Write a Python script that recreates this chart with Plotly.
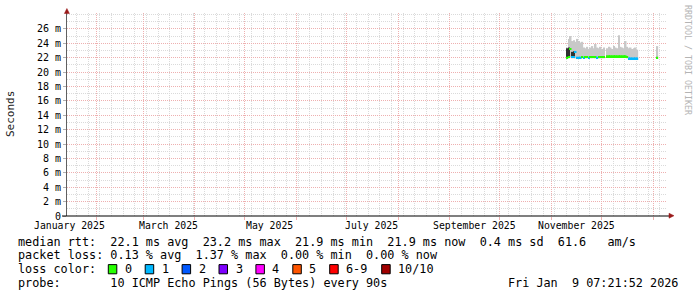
import plotly.graph_objects as go

# ---------------- data ----------------
dates = [
    "2025-11-10", "2025-11-11", "2025-11-12", "2025-11-13", "2025-11-14", "2025-11-15",
    "2025-11-16", "2025-11-17", "2025-11-18", "2025-11-19", "2025-11-20", "2025-11-21",
    "2025-11-22", "2025-11-23", "2025-11-24", "2025-11-25", "2025-11-26", "2025-11-27",
    "2025-11-28", "2025-11-29", "2025-11-30", "2025-12-01", "2025-12-02",
    "2025-12-04", "2025-12-05", "2025-12-06", "2025-12-07", "2025-12-08", "2025-12-09",
    "2025-12-10", "2025-12-11", "2025-12-12", "2025-12-13", "2025-12-14", "2025-12-15",
    "2025-12-16", "2025-12-17", "2025-12-18", "2025-12-19", "2025-12-20", "2025-12-21",
    "2025-12-22", "2026-01-03",
]
median_ms = [
    22.0, 22.1, 23.2, 22.1, 22.1, 22.8,
    22.0, 22.0, 22.0, 22.1, 22.0, 22.1,
    22.1, 22.0, 22.1, 22.1, 22.1, 22.1,
    22.0, 22.1, 22.1, 22.1, 22.1,
    22.2, 22.2, 22.2, 22.2, 22.2, 22.2,
    22.2, 22.2, 22.2, 22.2, 22.2, 22.2,
    22.1, 21.9, 21.9, 21.9, 21.9, 21.9,
    21.9, 22.0,
]
smoke_min_ms = [
    21.9, 21.9, 22.0, 21.9, 21.9, 21.9,
    21.8, 21.8, 21.8, 21.9, 21.8, 21.9,
    21.9, 21.8, 21.9, 21.9, 21.9, 21.9,
    21.8, 21.9, 21.9, 21.9, 21.9,
    22.0, 22.0, 22.0, 22.0, 22.0, 22.0,
    22.0, 22.0, 22.0, 22.0, 22.0, 22.0,
    21.9, 21.7, 21.7, 21.7, 21.7, 21.7,
    21.7, 21.9,
]
smoke_max_ms = [
    23.4, 24.6, 25.0, 24.3, 24.4, 24.2,
    24.6, 24.3, 24.1, 24.2, 23.4, 23.3,
    23.5, 23.2, 23.4, 23.6, 23.3, 23.9,
    23.4, 23.3, 23.5, 23.2, 23.4,
    23.3, 23.5, 23.4, 23.2, 23.6, 23.4,
    23.3, 25.1, 23.5, 23.4, 23.3, 24.3,
    23.5, 23.3, 23.4, 23.2, 23.3, 23.4,
    23.1, 23.6,
]
dark_top_ms = [
    23.3, 23.4, None, 22.8, 22.9, None,
    None, None, None, None, None, None,
    None, None, None, None, None, None,
    None, None, None, None, None,
    None, None, None, None, None, None,
    None, None, None, None, None, None,
    None, None, None, None, None, None,
    None, None,
]
loss_count = [
    0, 0, 0, 1, 1, 1,
    1, 1, 1, 0, 1, 0,
    0, 1, 0, 0, 0, 0,
    1, 0, 0, 0, 0,
    0, 0, 0, 0, 0, 0,
    0, 0, 0, 0, 0, 0,
    0, 1, 1, 1, 1, 1,
    1, 0,
]

loss_labels = ["0", "1", "2", "3", "4", "5", "6-9", "10/10"]
loss_colors = ["#26ff00", "#00b8ff", "#0059ff", "#7e00ff", "#ff00ff", "#ff5500", "#ff0000", "#a10000"]

y_tick_ms = list(range(0, 27, 2))
y_tick_text = ["0"] + [f"{v} m" for v in range(2, 27, 2)]

x_label_dates = ["2025-01-16", "2025-03-16", "2025-05-16", "2025-07-16", "2025-09-16", "2025-11-16"]
x_label_text = ["January 2025", "March 2025", "May 2025", "July 2025", "September 2025", "November 2025"]

month_starts = ["2025-02-01", "2025-03-01", "2025-04-01", "2025-05-01", "2025-06-01", "2025-07-01",
                "2025-08-01", "2025-09-01", "2025-10-01", "2025-11-01", "2025-12-01", "2026-01-01"]

x_start = "2025-01-14 07:21:52"
x_end = "2026-01-09 07:21:52"
y_max_ms = 28.2

legend_line1 = "median rtt:  22.1 ms avg  23.2 ms max  21.9 ms min  21.9 ms now  0.4 ms sd  61.6   am/s"
legend_line2 = "packet loss: 0.13 % avg  1.37 % max  0.00 % min  0.00 % now"
legend_line3 = "loss color:"
legend_line4 = "probe:       10 ICMP Echo Pings (56 Bytes) every 90s"
date_stamp = "Fri Jan  9 07:21:52 2026"
watermark = "RRDTOOL / TOBI OETIKER"

# ---------------- figure ----------------
MS = 1e-3
DAY = 86400000
LW = 0.26 * MS  # median line thickness

L, T, W, H = 67, 13, 600, 203
def px(x):
    return (x - L) / W
def py(y):
    return (T + H - y) / H

def loss_idx(c):
    if c <= 5:
        return c
    if c < 10:
        return 6
    return 7

MONO = "DejaVu Sans Mono"
fig = go.Figure()

# smoke
fig.add_trace(go.Bar(
    x=dates,
    base=[a * MS for a in smoke_min_ms],
    y=[(b - a) * MS for a, b in zip(smoke_min_ms, smoke_max_ms)],
    width=DAY, offset=0,
    marker=dict(color="#c8c8c8", line=dict(width=0)),
    hoverinfo="skip",
))
# dark inner smoke
dk = [(d, m, t) for d, m, t in zip(dates, median_ms, dark_top_ms) if t is not None]
fig.add_trace(go.Bar(
    x=[d for d, m, t in dk],
    base=[m * MS for d, m, t in dk],
    y=[(t - m) * MS for d, m, t in dk],
    width=DAY, offset=0,
    marker=dict(color="#303030", line=dict(width=0)),
    hoverinfo="skip",
))
# median coloured by loss
fig.add_trace(go.Bar(
    x=dates,
    base=[m * MS - LW / 2 for m in median_ms],
    y=[LW] * len(median_ms),
    width=DAY, offset=0,
    marker=dict(color=[loss_colors[loss_idx(c)] for c in loss_count], line=dict(width=0)),
    hoverinfo="skip",
))

MAJ = "#eeb0b0"
MIN = "#dadada"
DASH = "1px,1px"

fig.update_layout(
    width=697, height=297,
    margin=dict(l=L, r=697 - L - W, t=T, b=297 - T - H, pad=0),
    paper_bgcolor="white", plot_bgcolor="white",
    barmode="overlay", showlegend=False,
    font=dict(family=MONO, color="#000000"),
    xaxis=dict(
        type="date", range=[x_start, x_end],
        tickmode="array", tickvals=month_starts, showticklabels=False,
        ticks="outside", ticklen=3, tickcolor=MAJ, tickwidth=1,
        showgrid=True, gridcolor=MAJ, griddash=DASH, gridwidth=1,
        minor=dict(tick0="2025-01-20", dtick=7 * DAY, showgrid=True,
                   gridcolor=MIN, griddash=DASH, gridwidth=1, ticks=""),
        zeroline=False, showline=False, fixedrange=True,
    ),
    yaxis=dict(
        range=[0, y_max_ms * MS],
        tickmode="array", tickvals=[v * MS for v in y_tick_ms], ticktext=y_tick_text,
        tickfont=dict(family=MONO, size=10, color="#000"),
        ticks="outside", ticklen=3, tickcolor="#b0b0b0",
        showgrid=True, gridcolor=MAJ, griddash=DASH, gridwidth=1,
        minor=dict(dtick=1 * MS, tick0=0, showgrid=True, gridcolor=MIN,
                   griddash=DASH, gridwidth=1, ticks=""),
        zeroline=False, showline=True, linecolor="#606060", linewidth=1,
    ),
)

shapes = []
# x axis line and arrows
shapes.append(dict(type="line", xref="paper", yref="paper", x0=px(62), x1=px(670), y0=0, y1=0,
                   line=dict(color="#000000", width=1.2)))
shapes.append(dict(type="path", xref="paper", yref="paper",
                   path=f"M {px(669)} {py(213.2)} L {px(674)} {py(215.7)} L {px(669)} {py(218.2)} Z",
                   fillcolor="#9a1a1a", line=dict(color="#9a1a1a", width=0.5)))
shapes.append(dict(type="path", xref="paper", yref="paper",
                   path=f"M {px(64.4)} {py(13.5)} L {px(66.9)} {py(8.5)} L {px(69.4)} {py(13.5)} Z",
                   fillcolor="#9a1a1a", line=dict(color="#9a1a1a", width=0.5)))

annotations = []
for d, t in zip(x_label_dates, x_label_text):
    annotations.append(dict(xref="x", yref="paper", x=d, y=py(225.3), text=t, showarrow=False,
                            xanchor="center", yanchor="middle", font=dict(family=MONO, size=9.8)))
annotations.append(dict(xref="paper", yref="paper", x=px(11), y=py(114), text="Seconds",
                        textangle=-90, showarrow=False, xanchor="center", yanchor="middle",
                        font=dict(family=MONO, size=11, color="#222")))
annotations.append(dict(xref="paper", yref="paper", x=px(688), y=py(60), text=watermark,
                        textangle=90, showarrow=False, xanchor="center", yanchor="middle",
                        font=dict(family=MONO, size=8.3, color="#b4b4b4")))

def nb(s):
    return s.replace(" ", "\u00a0")

LEG = dict(family=MONO, size=11.8, color="#000")
for txt, yy in [(legend_line1, 241.7), (legend_line2, 255.0), (legend_line3, 269.0), (legend_line4, 282.7)]:
    annotations.append(dict(xref="paper", yref="paper", x=px(16), y=py(yy), text=nb(txt), showarrow=False,
                            xanchor="left", yanchor="middle", font=LEG))
annotations.append(dict(xref="paper", yref="paper", x=px(680), y=py(282.7), text=nb(date_stamp),
                        showarrow=False, xanchor="right", yanchor="middle", font=LEG))

box_x = [108.3 + 36.9 * i for i in range(7)] + [381.7]
for bx, lab, col in zip(box_x, loss_labels, loss_colors):
    shapes.append(dict(type="rect", xref="paper", yref="paper",
                       x0=px(bx), x1=px(bx + 8.5), y0=py(273.8), y1=py(264.6),
                       fillcolor=col, line=dict(color="#000", width=1)))
    annotations.append(dict(xref="paper", yref="paper", x=px(bx + 14.5), y=py(269.0), text=lab,
                            showarrow=False, xanchor="left", yanchor="middle", font=LEG))

fig.update_layout(shapes=shapes, annotations=annotations)
fig.write_html("out.html")
